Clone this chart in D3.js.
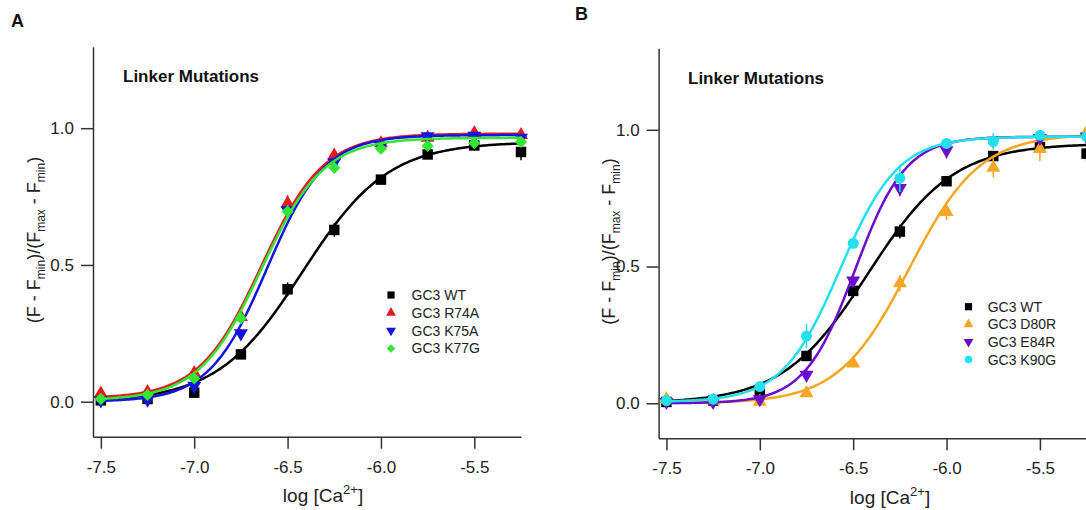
<!DOCTYPE html>
<html>
<head>
<meta charset="utf-8">
<script src="https://cdn.jsdelivr.net/npm/d3@7.9.0/dist/d3.min.js"></script>
<style>
  html, body { margin: 0; padding: 0; background: #fff; }
  svg { display: block; font-family: "Liberation Sans", Arial, sans-serif; }
</style>
</head>
<body>
<div id="chart"></div>
<script>
// log [Ca2+] values where points were measured
const concentrations = [-7.5, -7.25, -7.0, -6.75, -6.5, -6.25, -6.0, -5.75, -5.5, -5.25];
const xTicks = [-7.5, -7.0, -6.5, -6.0, -5.5];
const yTicks = [0.0, 0.5, 1.0];

// normalised fluorescence
const wtValues    = [0.005, 0.010, 0.033, 0.173, 0.411, 0.628, 0.812, 0.904, 0.937, 0.913];
const wtErrors    = [0, 0, 0.01, 0.01, 0.025, 0.025, 0.01, 0.01, 0.02, 0.03];
const r74aValues  = [0.030, 0.035, 0.105, 0.310, 0.725, 0.900, 0.945, 0.965, 0.982, 0.975];
const r74aErrors  = [0, 0, 0.01, 0.02, 0.03, 0.015, 0.01, 0.01, 0.015, 0.01];
const k75aValues  = [0.005, 0.007, 0.058, 0.250, 0.700, 0.875, 0.935, 0.970, 0.972, 0.965];
const k75aErrors  = [0, 0, 0.01, 0.015, 0.02, 0.015, 0.01, 0.01, 0.01, 0.01];
const k77gValues  = [0.010, 0.025, 0.085, 0.305, 0.695, 0.855, 0.925, 0.935, 0.945, 0.950];
const k77gErrors  = [0, 0, 0.01, 0.02, 0.025, 0.02, 0.015, 0.015, 0.01, 0.01];
const d80rValues  = [0.015, 0.010, 0.006, 0.037, 0.146, 0.439, 0.700, 0.861, 0.930, 0.990];
const d80rErrors  = [0, 0, 0, 0.01, 0.015, 0.03, 0.03, 0.035, 0.045, 0.02];
const e84rValues  = [0.005, 0.005, 0.015, 0.104, 0.449, 0.787, 0.925, 0.960, 0.970, 0.975];
const e84rErrors  = [0, 0, 0.01, 0.02, 0.02, 0.03, 0.03, 0.01, 0.01, 0.01];
const k90gValues  = [0.010, 0.015, 0.061, 0.246, 0.585, 0.823, 0.950, 0.957, 0.980, 0.975];
const k90gErrors  = [0, 0, 0.01, 0.045, 0.015, 0.05, 0.02, 0.03, 0.01, 0.01];

// Hill fit parameters: [bottom, top, logEC50, hill slope]
const wtFit   = [0.000, 0.950, -6.42, 1.9];
const r74aFit = [0.012, 0.980, -6.64, 2.6];
const k75aFit = [0.000, 0.975, -6.61, 2.8];
const k77gFit = [0.005, 0.965, -6.64, 2.6];
const d80rFit = [0.000, 0.985, -6.20, 2.3];
const e84rFit = [0.000, 0.975, -6.49, 3.2];
const k90gFit = [0.005, 0.975, -6.57, 2.8];

const panelASeries = [
  { name: 'GC3 WT',   values: wtValues,   errors: wtErrors,   fit: wtFit,   color: '#000000', symbol: 'square' },
  { name: 'GC3 R74A', values: r74aValues, errors: r74aErrors, fit: r74aFit, color: '#e41a1c', symbol: 'up' },
  { name: 'GC3 K75A', values: k75aValues, errors: k75aErrors, fit: k75aFit, color: '#1414e0', symbol: 'down' },
  { name: 'GC3 K77G', values: k77gValues, errors: k77gErrors, fit: k77gFit, color: '#33e633', symbol: 'diamond' }
];
const panelBSeries = [
  { name: 'GC3 WT',   values: wtValues,   errors: wtErrors,   fit: wtFit,   color: '#000000', symbol: 'square' },
  { name: 'GC3 D80R', values: d80rValues, errors: d80rErrors, fit: d80rFit, color: '#f5a623', symbol: 'up' },
  { name: 'GC3 E84R', values: e84rValues, errors: e84rErrors, fit: e84rFit, color: '#6a0dcc', symbol: 'down' },
  { name: 'GC3 K90G', values: k90gValues, errors: k90gErrors, fit: k90gFit, color: '#22e0ec', symbol: 'circle' }
];

const width = 1086;
const height = 510;
const xDomain = [-7.542, -5.25];
const yDomain = [-0.128, 1.298];

const svg = d3.select('#chart')
  .append('svg')
  .attr('width', width)
  .attr('height', height);

svg.append('rect').attr('width', width).attr('height', height).attr('fill', '#fff');

function hill(p, x) {
  return p[0] + (p[1] - p[0]) / (1 + Math.pow(10, (p[2] - x) * p[3]));
}

function markerPath(kind, big) {
  const sizes = big
    ? { square: 110, up: 85, down: 85, diamond: 75, circle: 95 }
    : { square: 52, up: 42, down: 42, diamond: 36, circle: 46 };
  let type = d3.symbolSquare;
  if (kind === 'up' || kind === 'down') type = d3.symbolTriangle;
  if (kind === 'circle') type = d3.symbolCircle;
  return d3.symbol(type, sizes[kind])();
}

function markerRotation(kind) {
  if (kind === 'down') return 180;
  if (kind === 'diamond') return 45;
  return 0;
}

// plain hyphen minus, like the original figure
const tickFmt = d => d.toFixed(1);

function drawPanel(cfg) {
  const x = d3.scaleLinear().domain(xDomain).range(cfg.xRange);
  const y = d3.scaleLinear().domain(yDomain).range(cfg.yRange);
  const g = svg.append('g');

  // panel letter and inset title
  g.append('text')
    .attr('x', cfg.letterX).attr('y', cfg.letterY)
    .attr('font-size', 18).attr('font-weight', 'bold').attr('fill', '#111')
    .text(cfg.letter);

  g.append('text')
    .attr('x', cfg.titleX).attr('y', cfg.titleY)
    .attr('font-size', 17).attr('font-weight', 'bold').attr('fill', '#111')
    .text('Linker Mutations');

  // axes
  const xAxis = g.append('g')
    .attr('transform', `translate(0, ${cfg.yRange[0]})`)
    .call(d3.axisBottom(x).tickValues(xTicks).tickSize(12).tickPadding(12)
      .tickSizeOuter(0).tickFormat(tickFmt));

  const yAxis = g.append('g')
    .attr('transform', `translate(${cfg.xRange[0]}, 0)`)
    .call(d3.axisLeft(y).tickValues(yTicks).tickSize(12).tickPadding(7)
      .tickSizeOuter(0).tickFormat(tickFmt));

  [xAxis, yAxis].forEach(a => {
    a.select('.domain').attr('stroke', '#333').attr('stroke-width', 1.5);
    a.selectAll('.tick line').attr('stroke', '#333').attr('stroke-width', 1.5);
    a.selectAll('.tick text')
      .attr('font-size', 17).attr('fill', '#222')
      .attr('font-family', '"Liberation Sans", Arial, sans-serif');
  });

  // x title with superscript
  const xt = g.append('text')
    .attr('x', cfg.xTitleX).attr('y', cfg.xTitleY)
    .attr('text-anchor', 'middle').attr('fill', '#222').attr('font-size', 19);
  xt.append('tspan').text('log [Ca');
  xt.append('tspan').attr('font-size', 13).attr('dy', -8).text('2+');
  xt.append('tspan').attr('dy', 8).text(']');

  // y title with subscripts
  const yt = g.append('text')
    .attr('transform', `translate(${cfg.yTitleX}, ${cfg.yTitleY}) rotate(-90)`)
    .attr('text-anchor', 'middle').attr('fill', '#222').attr('font-size', 18);
  const parts = [['(F - F', false], ['min', true], [')/(F', false], ['max', true],
                 [' - F', false], ['min', true], [')', false]];
  parts.forEach(([t, sub], i) => {
    const ts = yt.append('tspan').text(t);
    if (sub) ts.attr('font-size', 12).attr('dy', 5);
    else if (i > 0) ts.attr('dy', -5);
  });

  const line = d3.line()
    .x(d => x(d[0]))
    .y(d => y(d[1]));

  const xs = d3.range(-7.5, -5.2499, 0.01);

  cfg.series.forEach(s => {
    const sg = g.append('g');
    sg.append('path')
      .datum(xs.map(v => [v, hill(s.fit, v)]))
      .attr('fill', 'none')
      .attr('stroke', s.color)
      .attr('stroke-width', 2.5)
      .attr('d', line);

    const pts = concentrations.map((c, i) => ({ c, v: s.values[i], e: s.errors[i] }));

    sg.selectAll('line.err')
      .data(pts.filter(p => p.e > 0))
      .join('line')
      .attr('class', 'err')
      .attr('x1', p => x(p.c)).attr('x2', p => x(p.c))
      .attr('y1', p => y(p.v - p.e)).attr('y2', p => y(p.v + p.e))
      .attr('stroke', s.color).attr('stroke-width', 1.5);

    sg.selectAll('path.mark')
      .data(pts)
      .join('path')
      .attr('class', 'mark')
      .attr('d', markerPath(s.symbol, true))
      .attr('transform', p => `translate(${x(p.c)}, ${y(p.v)}) rotate(${markerRotation(s.symbol)})`)
      .attr('fill', s.color);
  });

  // legend
  const lg = g.append('g');
  cfg.series.forEach((s, i) => {
    const ly = cfg.legendY + i * cfg.legendStep;
    lg.append('path')
      .attr('d', markerPath(s.symbol, false))
      .attr('transform', `translate(${cfg.legendMarkX}, ${ly}) rotate(${markerRotation(s.symbol)})`)
      .attr('fill', s.color);
    lg.append('text')
      .attr('x', cfg.legendTextX).attr('y', ly).attr('dy', '0.36em')
      .attr('font-size', 14).attr('fill', '#222')
      .text(s.name);
  });
}

drawPanel({
  letter: 'A', letterX: 11, letterY: 27,
  titleX: 123, titleY: 82,
  xRange: [93, 521], yRange: [436.7, 46.7],
  xTitleX: 323, xTitleY: 502,
  yTitleX: 40, yTitleY: 240,
  legendY: 295, legendStep: 17.8, legendMarkX: 391, legendTextX: 411.5,
  series: panelASeries
});

drawPanel({
  letter: 'B', letterX: 575, letterY: 19.5,
  titleX: 688, titleY: 83.5,
  xRange: [658.6, 1086.6], yRange: [438.3, 48.3],
  xTitleX: 890, xTitleY: 503.5,
  yTitleX: 615, yTitleY: 241.5,
  legendY: 306.7, legendStep: 17.6, legendMarkX: 968.5, legendTextX: 987.7,
  series: panelBSeries
});
</script>
</body>
</html>
